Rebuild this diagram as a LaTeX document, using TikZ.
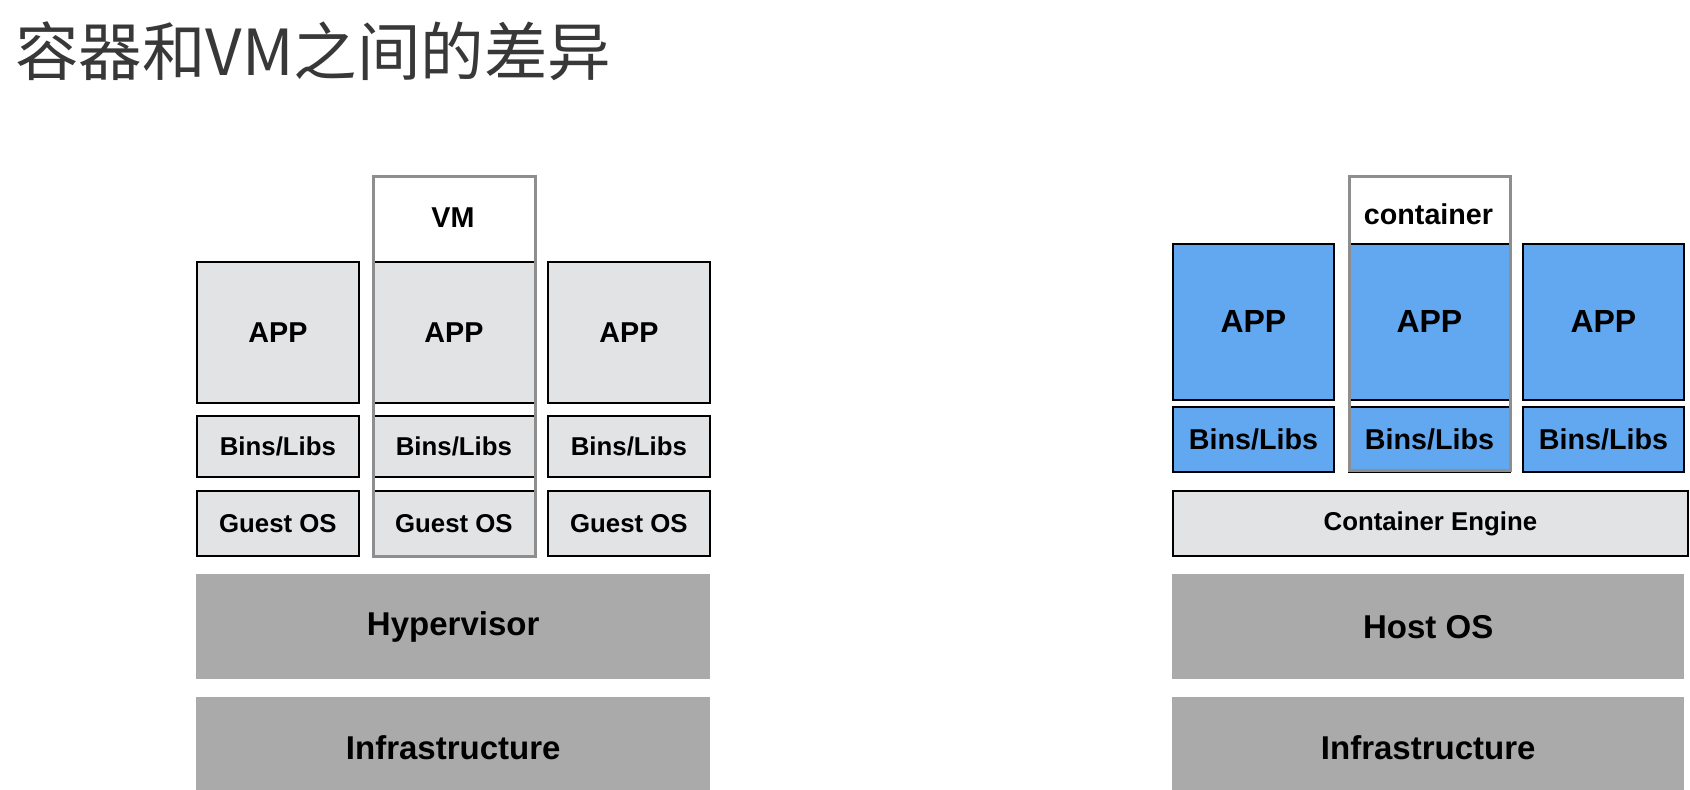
\documentclass[tikz,border=0pt]{standalone}
\usepackage{fontspec}
\setmainfont{Liberation Sans}
\newfontfamily\cjk{Noto Sans CJK SC}
\usepackage{tikz}
\definecolor{grigiochiaro}{HTML}{E2E3E5}
\definecolor{grigioscuro}{HTML}{AAAAAA}
\definecolor{celeste}{HTML}{62A8F0}
\definecolor{cornice}{HTML}{8E8E8E}
\definecolor{titolo}{HTML}{383838}
\newcommand{\fs}[1]{\fontsize{#1}{#1}\selectfont}
\tikzset{
  scatola/.style={draw=black, line width=1.8pt, anchor=north west, inner sep=0pt, font=\bfseries},
  chiara/.style={scatola, fill=grigiochiaro},
  blue/.style={scatola, fill=celeste},
  strato/.style={anchor=north west, inner sep=0pt, fill=grigioscuro, font=\bfseries\fs{33}},
  cornicetta/.style={draw=cornice, line width=2.8pt, anchor=north west, inner sep=0pt}
}

\begin{document}
\begin{tikzpicture}[x=1pt, y=-1pt]
  \useasboundingbox[fill=white] (0,0) rectangle (1690,790);
  % Titolo
  \node[anchor=north west, inner sep=0pt, text=titolo, font=\cjk\fs{63.5}] (titolo) at (15,22) {容器和VM之间的差异};

  % ---- Lato VM ----
  % APP
  \node[chiara, minimum width=162, minimum height=141, font=\bfseries\fs{28.7}] (appA) at (196,261) {APP};
  \node[chiara, minimum width=162, minimum height=141, font=\bfseries\fs{28.7}] (appB) at (372,261) {APP};
  \node[chiara, minimum width=162, minimum height=141, font=\bfseries\fs{28.7}] (appC) at (547,261) {APP};
  % Bins/Libs
  \node[chiara, minimum width=162, minimum height=61, font=\bfseries\fs{25.8}] (binA) at (196,415) {Bins/Libs};
  \node[chiara, minimum width=162, minimum height=61, font=\bfseries\fs{25.8}] (binB) at (372,415) {Bins/Libs};
  \node[chiara, minimum width=162, minimum height=61, font=\bfseries\fs{25.8}] (binC) at (547,415) {Bins/Libs};
  % Guest OS
  \node[chiara, minimum width=162, minimum height=65, font=\bfseries\fs{25.8}] (guestA) at (196,490) {Guest OS};
  \node[chiara, minimum width=162, minimum height=65, font=\bfseries\fs{25.8}] (guestB) at (372,490) {Guest OS};
  \node[chiara, minimum width=162, minimum height=65, font=\bfseries\fs{25.8}] (guestC) at (547,490) {Guest OS};
  % Cornice VM
  \node[cornicetta, minimum width=162, minimum height=380] (vm) at (372,175) {};
  \node[font=\bfseries\fs{28.7}] (vmlabel) at (453,218) {VM};
  % Strati sotto
  \node[strato, minimum width=514, minimum height=105] (hyper) at (196,574) {\raisebox{-3pt}{Hypervisor}};
  \node[strato, minimum width=514, minimum height=100] (infraA) at (196,697) {Infrastructure};

  % ---- Lato container ----
  % APP
  \node[blue, minimum width=161, minimum height=156, font=\bfseries\fs{32}] (appD) at (1172,243) {APP};
  \node[blue, minimum width=161, minimum height=156, font=\bfseries\fs{32}] (appE) at (1348,243) {APP};
  \node[blue, minimum width=161, minimum height=156, font=\bfseries\fs{32}] (appF) at (1522,243) {APP};
  % Bins/Libs
  \node[blue, minimum width=161, minimum height=65, font=\bfseries\fs{28.7}] (binD) at (1172,406) {Bins/Libs};
  \node[blue, minimum width=161, minimum height=65, font=\bfseries\fs{28.7}] (binE) at (1348,406) {Bins/Libs};
  \node[blue, minimum width=161, minimum height=65, font=\bfseries\fs{28.7}] (binF) at (1522,406) {Bins/Libs};
  % Cornice container
  \node[cornicetta, minimum width=161, minimum height=294] (cont) at (1348,175) {};
  \node[font=\bfseries\fs{28.7}] (contlabel) at (1428.5,214) {container};
  % Strati sotto
  \node[chiara, minimum width=515, minimum height=65, font=\bfseries\fs{25.8}] (engine) at (1172,490) {\raisebox{-3pt}{Container Engine}};
  \node[strato, minimum width=512, minimum height=105] (host) at (1172,574) {Host OS};
  \node[strato, minimum width=512, minimum height=100] (infraB) at (1172,697) {Infrastructure};
\end{tikzpicture}
\end{document}
